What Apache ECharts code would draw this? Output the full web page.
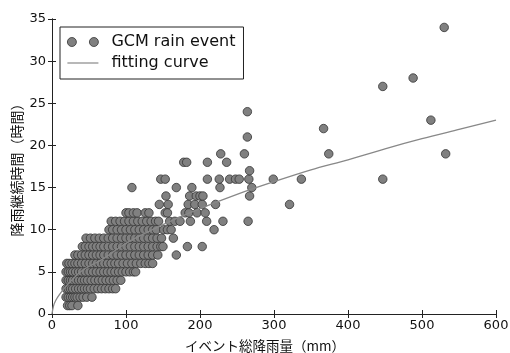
<!DOCTYPE html>
<html>
<head>
<meta charset="utf-8">
<script src="https://cdn.jsdelivr.net/npm/echarts@6/dist/echarts.min.js"></script>
<style>
  html, body { margin: 0; padding: 0; background: #fff; }
  #chart { width: 510px; height: 353px; }
</style>
</head>
<body>
<div id="chart"></div>
<script>
// rain events, grouped by duration (hours); each row lists the total rain (mm)
const eventHours = [1, 2, 3, 4, 5, 6, 7, 8, 9, 10, 11, 12, 13, 14, 15, 16, 17, 18, 19, 21, 22, 23, 24, 27, 28, 34];
const eventRain = [
  [21, 24, 27, 35],
  [19, 22, 25, 28, 31, 34, 38, 42, 47, 54],
  [19, 22, 25, 28, 32, 36, 40, 44, 48, 52, 57, 62, 67, 72, 77, 82, 86],
  [19, 22, 25, 28, 32, 36, 40, 44, 48, 53, 58, 63, 68, 73, 78, 83, 88, 93],
  [19, 22, 25, 28, 32, 36, 40, 45, 50, 55, 60, 65, 70, 75, 80, 85, 90, 95, 100, 105, 110, 113],
  [20, 23, 27, 31, 35, 40, 45, 50, 55, 60, 65, 70, 75, 80, 85, 90, 96, 102, 108, 114, 120, 126, 131, 136],
  [31, 35, 40, 45, 50, 55, 60, 65, 70, 76, 82, 88, 94, 100, 106, 112, 118, 124, 130, 136, 143, 168],
  [41, 45, 50, 55, 60, 65, 70, 76, 82, 88, 94, 100, 106, 112, 118, 124, 130, 136, 142, 147, 150, 183, 203],
  [46, 52, 58, 64, 70, 76, 82, 88, 94, 100, 106, 112, 118, 124, 130, 136, 142, 148, 164],
  [77, 82, 88, 94, 100, 106, 112, 118, 124, 130, 136, 141, 151, 156, 161, 219],
  [80, 86, 92, 98, 104, 110, 116, 122, 128, 134, 140, 144, 159, 166, 173, 187, 209, 231, 265],
  [100, 104, 110, 115, 126, 131, 153, 156, 180, 185, 196, 207],
  [145, 157, 184, 193, 203, 221, 321],
  [154, 186, 195, 200, 204, 267],
  [108, 168, 189, 227, 270],
  [147, 153, 210, 226, 240, 248, 253, 266, 299, 337, 447],
  [267],
  [178, 182, 210, 236],
  [228, 260, 374, 532],
  [264],
  [367],
  [512],
  [264],
  [447],
  [488],
  [530]
];

// fitting curve
const curveRain = [0, 2, 5, 10, 20, 40, 70, 100, 150, 200, 250, 300, 350, 400, 450, 500, 550, 600];
const curveHours = [0, 0.95, 1.6, 2.3, 3.4, 5.1, 6.6, 8.4, 10.6, 12.5, 14.2, 15.7, 17.1, 18.3, 19.6, 20.8, 21.9, 23.0];

const scatterData = [];
eventHours.forEach((h, i) => {
  eventRain[i].forEach(r => scatterData.push([r, h]));
});
const curveData = curveRain.map((r, i) => [r, curveHours[i]]);

const font = "'DejaVu Sans', sans-serif";
const jpFont = "'Noto Sans CJK JP', sans-serif";
const twoDots = "path://M4.5,0a4.5,4.5 0 1,1 0,9a4.5,4.5 0 1,1 0,-9zM26.5,0a4.5,4.5 0 1,1 0,9a4.5,4.5 0 1,1 0,-9z";
const shortLine = "path://M0,0h31v1.2H0z";

const axisCommon = {
  axisLine: { show: true, lineStyle: { color: "#222", width: 1 } },
  axisTick: { show: true, inside: true, length: 4, lineStyle: { color: "#222" } },
  splitLine: { show: false }
};

const chart = echarts.init(document.getElementById("chart"));
chart.setOption({
  animation: false,
  backgroundColor: "#fff",
  grid: { left: 52, right: 14, top: 19, bottom: 39, outerBoundsMode: "none" },
  legend: {
    orient: "vertical",
    left: 60,
    top: 27,
    padding: [7, 8, 8, 7],
    itemGap: 5,
    itemWidth: 31,
    itemHeight: 9,
    symbolKeepAspect: true,
    borderColor: "#222",
    borderWidth: 1,
    backgroundColor: "#fff",
    textStyle: { fontFamily: font, fontSize: 16, color: "#111", padding: [0, 0, 0, 8] },
    data: [
      { name: "GCM rain event", icon: twoDots, itemStyle: { borderWidth: 0.8, borderColor: "#333" } },
      { name: "fitting curve", icon: shortLine, itemStyle: { color: "#888", borderWidth: 0 } }
    ]
  },
  xAxis: [
    Object.assign({
      type: "value", min: 0, max: 600, interval: 100,
      name: "イベント総降雨量（mm）",
      nameLocation: "middle",
      nameGap: 25,
      nameMoveOverlap: false,
      nameTextStyle: { fontFamily: jpFont, fontSize: 13.5, color: "#111", padding: [0, 18, 0, 0] },
      axisLabel: { fontFamily: font, fontSize: 13, color: "#111", margin: 5 }
    }, axisCommon),
    Object.assign({
      type: "value", min: 0, max: 600, interval: 100, position: "top",
      axisLabel: { show: false }
    }, axisCommon)
  ],
  yAxis: [
    Object.assign({
      type: "value", min: 0, max: 35, interval: 5,
      name: "降雨継続時間（時間）",
      nameLocation: "middle",
      nameGap: 28,
      nameMoveOverlap: false,
      nameTextStyle: { fontFamily: jpFont, fontSize: 14, color: "#111" },
      axisLabel: { fontFamily: font, fontSize: 13, color: "#111", margin: 6 }
    }, axisCommon),
    Object.assign({
      type: "value", min: 0, max: 35, interval: 5, position: "right",
      axisLabel: { show: false }
    }, axisCommon)
  ],
  series: [
    {
      name: "GCM rain event",
      type: "scatter",
      data: scatterData,
      symbol: "circle",
      symbolSize: 8.5,
      itemStyle: { color: "#808080", borderColor: "#333", borderWidth: 0.8, opacity: 1 },
      z: 2
    },
    {
      name: "fitting curve",
      type: "line",
      data: curveData,
      symbol: "none",
      smooth: 0.3,
      lineStyle: { color: "#888", width: 1.3 },
      itemStyle: { color: "#888" },
      z: 3
    }
  ]
});
</script>
</body>
</html>
